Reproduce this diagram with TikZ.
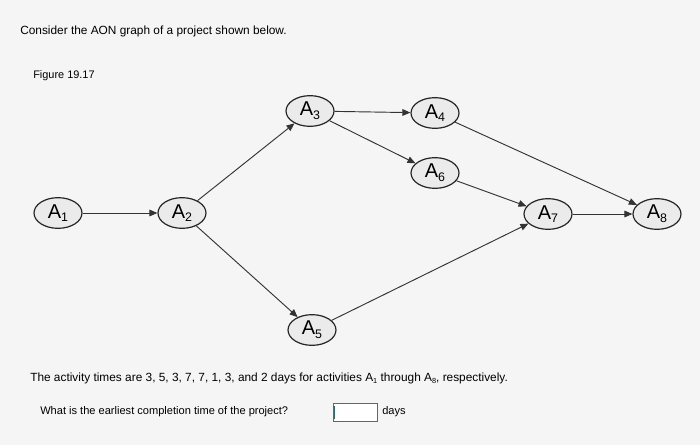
\documentclass[tikz,border=0pt]{standalone}
\usepackage{fontspec}
\setmainfont{Liberation Sans}
\usetikzlibrary{shapes.geometric,arrows.meta}
\newcommand{\mysb}[1]{\raisebox{-0.35ex}{\fontsize{0.62em}{0.62em}\selectfont #1}}
\begin{document}
\begin{tikzpicture}[x=0.75pt,y=-0.75pt,
  act/.style={ellipse,draw=black!85,line width=0.9pt,fill=black!8,minimum width=36pt,minimum height=23pt,inner sep=0pt,font=\fontsize{15}{15}\selectfont},
  con/.style={draw=black!80,line width=0.7pt,-{Triangle[length=6pt,width=5pt]}},
  txt/.style={anchor=west,inner sep=0pt,font=\fontsize{8.9}{10}\selectfont}]
\fill[black!4] (0,0) rectangle (700,445);
\useasboundingbox (0,0) rectangle (700,445);
\node[txt] (t1) at (20,31) {Consider the AON graph of a project shown below.};
\node[txt] (t2) at (33,76) {\fontsize{8.2}{9}\selectfont Figure 19.17};
\node[act] (a1) at (58,213) {A\mysb{1}};
\node[act] (a2) at (182,213) {A\mysb{2}};
\node[act] (a3) at (310,111) {A\mysb{3}};
\node[act] (a4) at (435,113) {A\mysb{4}};
\node[act] (a6) at (435,173) {A\mysb{6}};
\node[act] (a7) at (548,214) {A\mysb{7}};
\node[act] (a8) at (657,214) {A\mysb{8}};
\node[act] (a5) at (312,330) {A\mysb{5}};
\draw[con] (a1) -- (a2);
\draw[con] (a2) -- (a3);
\draw[con] (a2) -- (a5);
\draw[con] (a3) -- (a4);
\draw[con] (a3) -- (a6);
\draw[con] (a4) -- (a8);
\draw[con] (a6) -- (a7);
\draw[con] (a5) -- (a7);
\draw[con] (a7) -- (a8);
\node[txt] (t3) at (30,378) {The activity times are 3, 5, 3, 7, 7, 1, 3, and 2 days for activities A\mysb{1} through A\mysb{8}, respectively.};
\node[txt] (t4) at (40,412) {\fontsize{8.3}{9}\selectfont What is the earliest completion time of the project?};
\node[draw=black!60,fill=white,minimum width=33pt,minimum height=13.5pt,inner sep=0pt] (box) at (355.5,412.5) {};
\draw[teal,line width=1pt] ([shift={(1pt,-2pt)}]box.north west) -- ([shift={(1pt,2pt)}]box.south west);
\node[txt] (t5) at (382,412) {\fontsize{8.3}{9}\selectfont days};
\end{tikzpicture}
\end{document}
